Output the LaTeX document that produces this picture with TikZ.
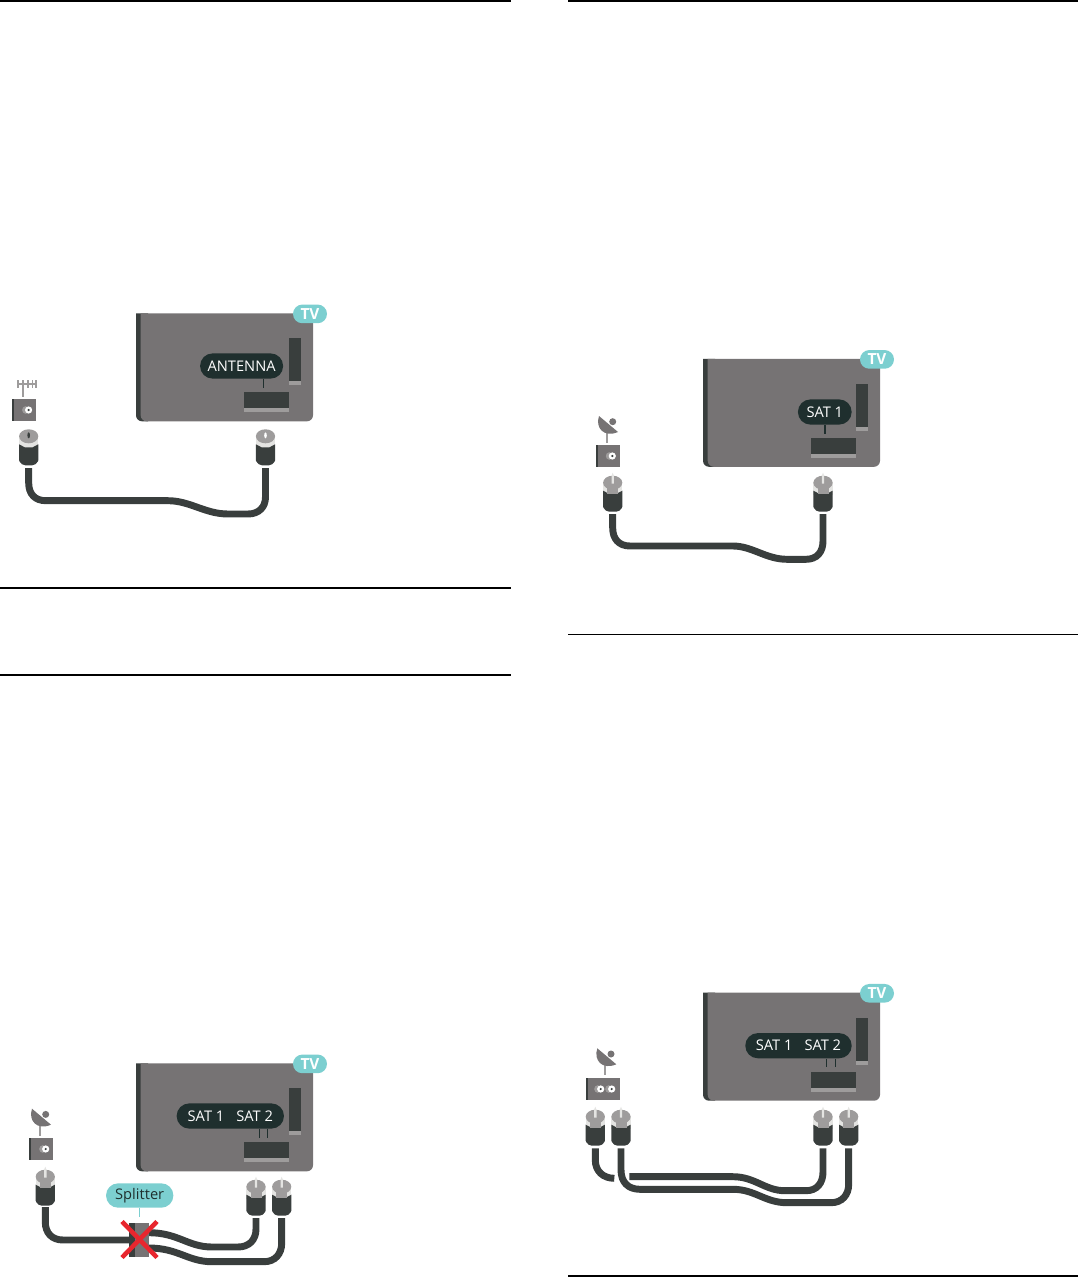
\documentclass[tikz,border=0pt]{standalone}
\usepackage{fontspec}
\setmainfont{Open Sans}
\definecolor{panelgrey}{HTML}{767374}
\definecolor{darkgrey}{HTML}{393E3D}
\definecolor{lightgrey}{HTML}{9E9C9C}
\definecolor{bandgrey}{HTML}{E4E4E2}
\definecolor{pilldark}{HTML}{1F2F2E}
\definecolor{tealfill}{HTML}{7CCFD0}
\definecolor{crossred}{HTML}{E8262E}
\tikzset{
    rule/.style={draw=black, line width=1.5pt},
    cable/.style={draw=darkgrey, line width=5.2pt},
    leader/.style={draw=pilldark, line width=1pt},
    portpill/.style={fill=pilldark, text=white, rounded corners=9.4pt, inner sep=0pt, minimum height=18.9pt, font=\fontsize{11}{12}\selectfont},
    tvbadge/.style={fill=tealfill, text=white, rounded corners=7pt, inner sep=0pt, minimum width=25.5pt, minimum height=14pt, font=\fontsize{11.5}{12}\selectfont\bfseries},
}
% TV back: x, y, name prefix
\newcommand{\tvback}[3]{
    \begin{scope}[shift={(#1,#2)}]
        \fill[darkgrey] (0,0) -- (12,0) -- (12,108) [rounded corners=4.5pt] -- (0,108) [sharp corners] -- cycle;
        \fill[panelgrey] (4.7,0) -- (177,0) [rounded corners=4.5pt] -- (177,108) -- (4.7,108) [sharp corners] -- cycle;
        \fill[darkgrey] (153,25) rectangle (165,68);
        \fill[lightgrey] (153,68) rectangle (165,72);
        \fill[darkgrey] (108,79) rectangle (153,95);
        \fill[lightgrey] (108,95) rectangle (153,99);
        \node[tvbadge] (#3badge) at (174,0.6) {TV};
    \end{scope}
}
% wall socket
\newcommand{\socket}[2]{
    \fill[lightgrey] (#1-3,#2) ellipse (3.5 and 3.8);
    \fill[white] (#1,#2) circle (3.6);
    \fill[darkgrey] (#1,#2) circle (1.2);
}
% dish: x, y of the foot of the mast
\newcommand{\dish}[2]{
    \begin{scope}[shift={(#1,#2)}]
        \draw[lightgrey, line width=1.3pt] (10.7,-12) -- (10.7,-2);
        \fill[panelgrey] (3,-29) .. controls (-1,-17) and (8,-7) .. (22,-13) -- cycle;
        \fill[panelgrey] (16.7,-23.3) circle (3.5);
    \end{scope}
}
% plug body, pin top at y
\newcommand{\plugbody}[2]{
    \begin{scope}[shift={(#1,#2)}]
        \fill[bandgrey] (-9.6,9) -- (-9.6,22) -- (9.6,22) -- (9.6,9) -- cycle;
        \fill[lightgrey] (0,10) ellipse (9.6 and 7);
        \fill[darkgrey] (-9.6,18) -- (-9.6,34) [rounded corners=3pt] -- (-7.5,39) -- (7.5,39) [sharp corners] -- (9.6,34) -- (9.6,18) -- (4,21) -- (-4,21) -- cycle;
    \end{scope}
}
\newcommand{\satplug}[2]{
    \plugbody{#1}{#2}
    \begin{scope}[shift={(#1,#2)}]
        \fill[lightgrey] (-5.5,15) rectangle (5.5,21);
        \fill[bandgrey] (-1.2,11) -- (-1.2,3) -- (0,0) -- (1.2,3) -- (1.2,11) -- cycle;
    \end{scope}
}
\newcommand{\antplug}[3]{
    \plugbody{#1}{#2}
    \fill[#3] (#1,#2+9) ellipse (1.3 and 3);
}
\begin{document}
\begin{tikzpicture}[x=0.75pt, y=-0.75pt]
    \useasboundingbox (0,0) rectangle (1078,1277);

    % Draw rules
    \foreach \xa/\xb/\ya in {0/511/1, 0/511/588, 0/511/675, 568/1078/1, 568/1078/1276}
        \draw[rule] (\xa,\ya) -- (\xb,\ya);
    \draw[rule, line width=0.75pt] (568,634.3) -- (1078,634.3);

    % Antenna set
    \tvback{136}{313.3}{ant}
    \node[portpill, minimum width=62.3pt] (antlabel) at (241.6,366) {ANTENNA};
    \coordinate (antport) at (263.7,388);
    \draw[leader] (antport |- antlabel.south) -- (antport);
    \draw[lightgrey, line width=1.3pt] (22.7,380) -- (22.7,396.7);
    \draw[lightgrey, line width=0.9pt] (17.5,384) -- (36.5,384);
    \foreach \xa in {18,23,28,32.5,36}
        \draw[lightgrey, line width=0.9pt] (\xa,380) -- (\xa,388);
    \fill[panelgrey] (12,398.7) rectangle (36,420.7);
    \fill[darkgrey] (12,398.7) rectangle (14,420.7);
    \socket{28.6}{410}
    \antplug{28.7}{426.3}{darkgrey}
    \antplug{265.5}{426.3}{white}
    \coordinate (antl) at (28.7,468);
    \coordinate (antr) at (265.5,468);
    \draw[cable] (antl) -- (28.7,483) .. controls (28.7,494) and (35,500.7) .. (46,500.7) -- (168,500.7)
        .. controls (190,500.7) and (205,514) .. (228,514) -- (248,514)
        .. controls (259,514) and (265.5,507) .. (265.5,497) -- (antr);

    % Satellite set, one cable
    \tvback{703}{358.8}{one}
    \node[portpill, minimum width=40.3pt] (onelabel) at (824.8,412) {SAT 1};
    \coordinate (oneport) at (825,433.5);
    \draw[leader] (oneport |- onelabel.south) -- (oneport);
    \dish{596}{445}
    \fill[panelgrey] (596,445) rectangle (620,467);
    \fill[darkgrey] (596,445) rectangle (598,467);
    \socket{612.3}{456}
    \satplug{612.7}{472.7}
    \satplug{823}{472.7}
    \coordinate (onel) at (612.7,514);
    \coordinate (oner) at (823,514);
    \draw[cable] (onel) -- (612.7,528) .. controls (612.7,539) and (619,546) .. (630,546) -- (733,546)
        .. controls (752,546) and (766,559.3) .. (787,559.3) -- (806,559.3)
        .. controls (817,559.3) and (823,552) .. (823,541) -- (oner);

    % Splitter set
    \tvback{136}{1063.3}{spl}
    \node[portpill, minimum width=80.5pt] (spllabel) at (230.3,1116) {SAT 1\hspace{9pt}SAT 2};
    \coordinate (splporta) at (259.3,1138);
    \coordinate (splportb) at (267.7,1138);
    \draw[leader] (splporta |- spllabel.south) -- (splporta);
    \draw[leader] (splportb |- spllabel.south) -- (splportb);
    \dish{29}{1137.7}
    \fill[panelgrey] (29,1137.7) rectangle (53,1160);
    \fill[darkgrey] (29,1137.7) rectangle (31,1160);
    \socket{45.7}{1149}
    \satplug{45.3}{1166.7}
    \satplug{256}{1176.7}
    \satplug{281.7}{1176.7}
    \coordinate (spll) at (45.3,1207);
    \coordinate (splra) at (256,1218);
    \coordinate (splrb) at (281.7,1218);
    \draw[cable] (spll) -- (45.3,1222) .. controls (45.3,1233) and (52,1240) .. (63,1240) -- (129,1240);
    \draw[cable] (149,1232.7) .. controls (178,1232.7) and (188,1247) .. (212,1247) -- (238,1247)
        .. controls (249,1247) and (256,1240) .. (256,1229) -- (splra);
    \draw[cable] (149,1248) .. controls (178,1248) and (188,1261.7) .. (212,1261.7) -- (264,1261.7)
        .. controls (275,1261.7) and (281.7,1254) .. (281.7,1243) -- (splrb);
    \fill[panelgrey] (129,1223.3) rectangle (149.3,1256.7);
    \fill[darkgrey] (129,1223.3) rectangle (135,1256.7);
    \draw[crossred, line width=3.4pt] (122,1221.5) -- (157,1257.5);
    \draw[crossred, line width=3.4pt] (157,1221.5) -- (122,1257.5);
    \node[fill=tealfill, text=pilldark, rounded corners=9.1pt, inner sep=0pt, minimum width=50.5pt, minimum height=18.3pt, font=\fontsize{11}{12}\selectfont] (split) at (139.7,1195.5) {Splitter};
    \coordinate (splitfoot) at (139.3,1216.7);
    \draw[tealfill, line width=1pt] (splitfoot |- split.south) -- (splitfoot);

    % Satellite set, two cables
    \tvback{703}{992.7}{two}
    \node[portpill, minimum width=79.8pt] (twolabel) at (798.5,1045.7) {SAT 1\hspace{9pt}SAT 2};
    \coordinate (twoporta) at (826.3,1067.3);
    \coordinate (twoportb) at (835.7,1067.3);
    \draw[leader] (twoporta |- twolabel.south) -- (twoporta);
    \draw[leader] (twoportb |- twolabel.south) -- (twoportb);
    \dish{594.3}{1077.3}
    \fill[panelgrey] (586,1077.7) rectangle (620,1100);
    \fill[darkgrey] (586,1077.7) rectangle (588,1100);
    \socket{600.7}{1089}
    \socket{611.7}{1089}
    \satplug{595.3}{1106.7}
    \satplug{621}{1106.7}
    \satplug{823}{1106.7}
    \satplug{848.7}{1106.7}
    \coordinate (twola) at (595.3,1148.3);
    \coordinate (twolb) at (621,1148.3);
    \coordinate (twora) at (823,1148.3);
    \coordinate (tworb) at (848.7,1148.3);
    \coordinate (twoend) at (614.3,1178.3);
    \coordinate (twostart) at (629.3,1176.7);
    \draw[cable] (twola) -- (595.3,1160) .. controls (595.3,1171) and (603,1178.3) .. (twoend);
    \draw[cable] (twostart) -- (733,1176.7) .. controls (755,1176.7) and (765,1190.7) .. (785,1190.7) -- (806,1190.7)
        .. controls (817,1190.7) and (823,1183) .. (823,1172) -- (twora);
    \draw[cable] (twolb) -- (621,1170) .. controls (621,1182) and (628,1189.3) .. (640,1189.3) -- (733,1189.3)
        .. controls (755,1189.3) and (765,1202.7) .. (787,1202.7) -- (831,1202.7)
        .. controls (842,1202.7) and (848.7,1195) .. (848.7,1184) -- (tworb);
\end{tikzpicture}
\end{document}
